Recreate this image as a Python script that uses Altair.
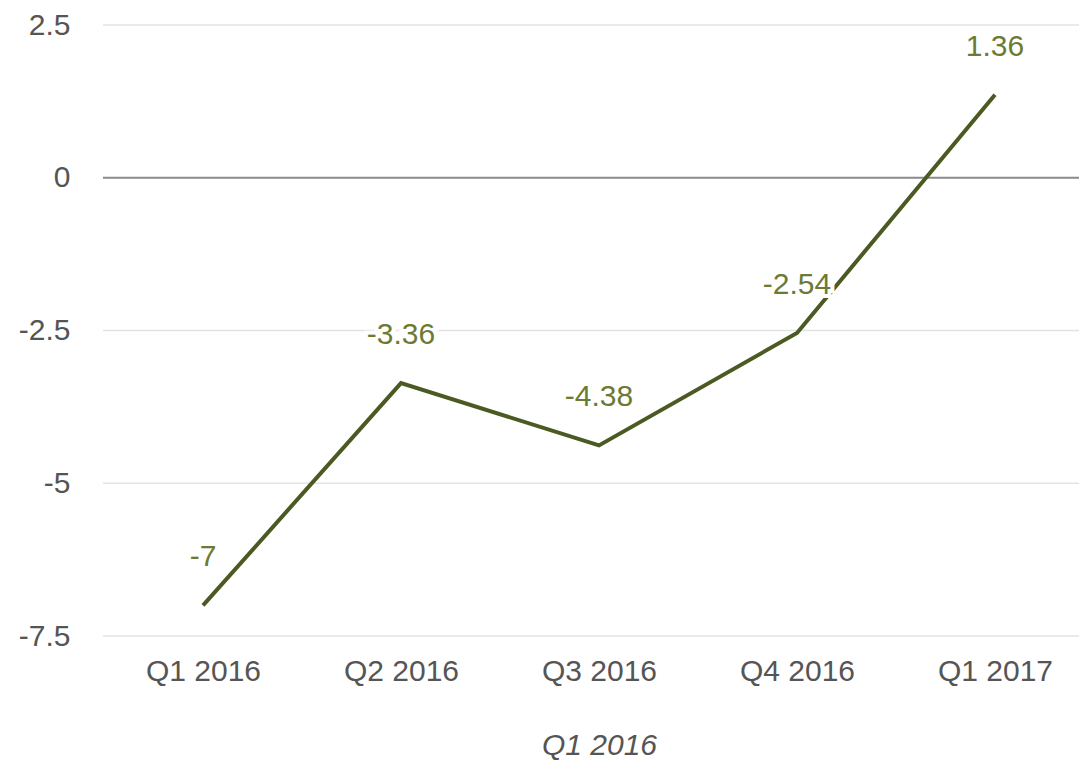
import altair as alt
import pandas as pd

quarters = ["Q1 2016", "Q2 2016", "Q3 2016", "Q4 2016", "Q1 2017"]
values = [-7, -3.36, -4.38, -2.54, 1.36]
labels = ["-7", "-3.36", "-4.38", "-2.54", "1.36"]
y_ticks = [-7.5, -5, -2.5, 0, 2.5]

df = pd.DataFrame({"quarter": quarters, "value": values, "label": labels})
grid_df = pd.DataFrame({"tick": y_ticks})

FONT = "Liberation Sans"
FS = 30
GREY = "#555555"
W, H = 976, 611

yscale = alt.Scale(domain=[-7.5, 2.5], nice=False, zero=False)
yaxis = alt.Axis(title=None, values=y_ticks, ticks=False, domain=False,
                 labelFontSize=FS, labelColor=GREY, labelPadding=33,
                 labelFont=FONT, grid=False, labelExpr="datum.value + ''")

x_enc = alt.X("quarter:N", sort=quarters,
              scale=alt.Scale(type="point", range=[100, 892], padding=0),
              axis=alt.Axis(title="Q1 2016", titleFontStyle="italic", titleFontWeight="normal",
                            titleFontSize=FS, titleColor=GREY, titlePadding=44,
                            labelFontSize=FS, labelColor=GREY, labelPadding=20,
                            labelAngle=0, ticks=False, domain=False, grid=False,
                            labelFont=FONT, titleFont=FONT))
y_enc = alt.Y("value:Q", scale=yscale, axis=yaxis)

grid = alt.Chart(grid_df).mark_rule().encode(
    y=alt.Y("tick:Q", scale=yscale, axis=yaxis),
    x=alt.value(0), x2=alt.value(W),
    color=alt.condition("datum.tick == 0", alt.value("#8a8a8a"), alt.value("#e3e3e3")),
    strokeWidth=alt.condition("datum.tick == 0", alt.value(2), alt.value(1.5)),
)

base = alt.Chart(df)

line = base.mark_line(color="#4b5a22", strokeWidth=4).encode(x=x_enc, y=y_enc)

halo = base.mark_text(fontSize=FS, font=FONT, dy=-48, stroke="white", strokeWidth=8,
                      color="white").encode(x=x_enc, y=y_enc, text="label:N")
text = base.mark_text(fontSize=FS, font=FONT, dy=-48, color="#6d7a34").encode(
    x=x_enc, y=y_enc, text="label:N")

chart = alt.layer(grid, line, halo, text).properties(
    width=W, height=H,
    autosize=alt.AutoSizeParams(type="none"),
    padding={"left": 95, "top": 17, "right": 0, "bottom": 128},
).configure_view(stroke=None).configure_axis(labelFont=FONT)

chart.save("out.html", embed_options={"renderer": "svg", "actions": False})
